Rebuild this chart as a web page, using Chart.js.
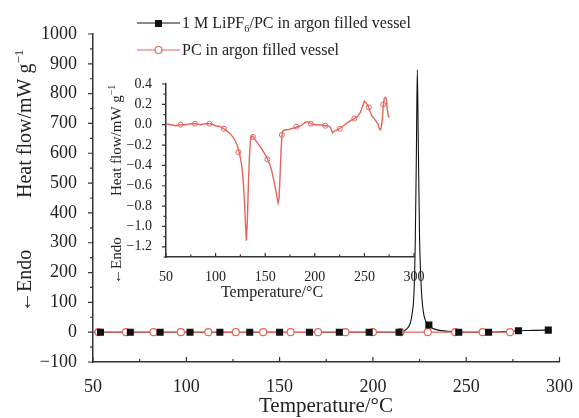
<!DOCTYPE html>
<html lang="en">
<head>
    <meta charset="UTF-8">
    <title>DSC - LiPF6/PC in argon</title>
    <script src="https://cdn.jsdelivr.net/npm/chart.js"></script>
    <style>
        body { margin: 0; background: #fff; }
        .wrap { position: relative; width: 579px; height: 418px; }
        .wrap canvas { position: absolute; left: 0; top: 0; }
        #insetChart { pointer-events: none; }
    </style>
</head>
<body>
    <div class="wrap">
        <canvas id="mainChart" width="579" height="418"></canvas>
        <canvas id="insetChart" width="579" height="418"></canvas>
    </div>

    <script>
        // tick labels
        const mainXTicks = [50, 100, 150, 200, 250, 300];
        const mainYTicks = [-100, 0, 100, 200, 300, 400, 500, 600, 700, 800, 900, 1000];
        const insetXTicks = [50, 100, 150, 200, 250, 300];
        const insetYTicks = [-1.2, -1.0, -0.8, -0.6, -0.4, -0.2, 0.0, 0.2, 0.4];

        // 1 M LiPF6/PC in argon filled vessel (black)
        const liTemp = [50, 100, 150, 200, 212, 214, 216, 218, 220, 221, 222, 222.7, 223.3, 223.8, 224.3, 225, 226, 227, 228, 229, 230, 232, 235, 240, 245, 250, 262, 270, 278, 286, 294];
        const liFlow = [0, 0, 0, 0, 0, 1, 3, 10, 30, 60, 130, 300, 600, 880, 650, 320, 140, 70, 42, 30, 24, 13, 7, 3, 1, 0, 0, 2, 5, 6, 7];
        const liMarkTemp = [54, 70, 86, 102, 118, 134, 150, 166, 182, 198, 214, 230, 246, 262, 278, 294];
        const liMarkFlow = [0, 0, 0, 0, 0, 0, 0, 0, 0, 0, 0, 24, 0, 0, 5, 7];

        // PC in argon filled vessel (red)
        const pcTemp = [50, 55, 60, 65, 70, 75, 80, 85, 90, 95, 100, 105, 110, 115, 118, 120, 122, 124, 126, 127, 128, 129, 130, 131, 132, 133, 134, 135, 136, 137, 138, 140, 143, 146, 149, 152, 155, 157, 159, 161, 162, 163, 164, 165, 166, 167, 168, 170, 173, 176, 180, 183, 186, 190, 193, 196, 200, 205, 210, 213, 215, 216, 217, 218, 220, 223, 226, 230, 233, 236, 240, 243, 246, 248, 250, 252, 254, 256, 258, 260, 262, 264, 265, 266, 267, 268, 269, 270, 271, 272, 273, 274, 275];
        const pcFlow = [0.01, 0.0, -0.01, 0.0, 0.0, 0.01, 0.01, 0.0, 0.01, 0.01, -0.01, -0.02, -0.05, -0.09, -0.13, -0.16, -0.21, -0.28, -0.38, -0.46, -0.58, -0.74, -0.95, -1.14, -0.95, -0.6, -0.34, -0.16, -0.12, -0.11, -0.12, -0.15, -0.19, -0.23, -0.28, -0.33, -0.4, -0.47, -0.56, -0.66, -0.72, -0.77, -0.72, -0.5, -0.25, -0.09, -0.06, -0.05, -0.05, -0.04, -0.03, -0.02, -0.01, 0.02, 0.03, 0.01, 0.0, 0.0, -0.01, -0.01, -0.02, -0.03, -0.06, -0.08, -0.06, -0.05, -0.03, 0.0, 0.02, 0.04, 0.06, 0.08, 0.12, 0.18, 0.23, 0.21, 0.18, 0.12, 0.08, 0.06, 0.03, 0.0, -0.04, -0.05, -0.03, 0.05, 0.18, 0.26, 0.27, 0.26, 0.16, 0.09, 0.07];
        const pcMarkTemp = [53, 67.7, 82.4, 97.1, 111.8, 126.5, 141.2, 155.9, 170.6, 185.3, 200, 214.7, 229.4, 244.1, 258.8, 273.5];
        const pcMarkFlow = [0, 0, 0, 0, 0, 0, 0, 0, 0, 0, 0, 0, 0, 0, 0, 0];
        const pcInsetMarkTemp = [64.6, 79.2, 93.8, 108.4, 123, 137.6, 152.2, 166.8, 181.4, 196, 210.6, 225.2, 239.8, 254.4, 269];
        const pcInsetMarkFlow = [0.0, 0.01, 0.01, -0.04, -0.27, -0.12, -0.34, -0.1, -0.02, 0.01, -0.01, -0.04, 0.06, 0.17, 0.2];

        const BLACK = '#111';
        const RED = '#e4655c';
        const SERIF = "'Liberation Serif', 'Times New Roman', serif";

        const pts = (xs, ys) => xs.map((x, i) => ({ x: x, y: ys[i] }));
        const fmt = v => (v < 0 ? '\u2212' : '') + Math.abs(v);

        // draws text pieces with sub/superscripts, returns end x
        function richText(ctx, parts, x, y, size) {
            parts.forEach(p => {
                const s = p.sub || p.sup ? size * 0.65 : size;
                ctx.font = s + 'px ' + SERIF;
                const dy = p.sub ? size * 0.28 : (p.sup ? -size * 0.4 : 0);
                ctx.fillText(p.t, x, y + dy);
                x += ctx.measureText(p.t).width;
            });
            return x;
        }

        // tick marks: x ticks point inward (up), y ticks outward (left); minor ticks halfway
        function tickMarks(chart, major, minor) {
            const ctx = chart.ctx, a = chart.chartArea;
            const xs = chart.scales.x, ys = chart.scales.y;
            ctx.save();
            ctx.strokeStyle = '#333';
            ctx.lineWidth = 1.2;
            ctx.beginPath();
            xs.ticks.forEach((t, i) => {
                const p = xs.getPixelForValue(t.value);
                ctx.moveTo(p, a.bottom); ctx.lineTo(p, a.bottom - major);
                if (i < xs.ticks.length - 1) {
                    const m = xs.getPixelForValue((t.value + xs.ticks[i + 1].value) / 2);
                    ctx.moveTo(m, a.bottom); ctx.lineTo(m, a.bottom - minor);
                }
            });
            ys.ticks.forEach((t, i) => {
                const p = ys.getPixelForValue(t.value);
                ctx.moveTo(a.left, p); ctx.lineTo(a.left - major, p);
                if (i < ys.ticks.length - 1) {
                    const m = ys.getPixelForValue((t.value + ys.ticks[i + 1].value) / 2);
                    ctx.moveTo(a.left, m); ctx.lineTo(a.left - minor, m);
                }
            });
            // a minor tick below the lowest inset label
            const lo = ys.ticks[0].value, step = ys.ticks[1].value - lo;
            if (ys.min < lo - step / 2 + 1e-9) {
                const m = ys.getPixelForValue(lo - step / 2);
                ctx.moveTo(a.left, m); ctx.lineTo(a.left - minor, m);
            }
            ctx.stroke();
            ctx.restore();
        }

        const mainDecor = {
            id: 'mainDecor',
            afterDraw(chart) {
                const ctx = chart.ctx, a = chart.chartArea;
                tickMarks(chart, 5, 3);
                ctx.save();
                ctx.fillStyle = '#222';
                // x title
                ctx.font = '21px ' + SERIF;
                ctx.textAlign = 'center';
                ctx.textBaseline = 'alphabetic';
                ctx.fillText('Temperature/\u00B0C', 326, 412);
                // y title (rotated)
                ctx.textAlign = 'left';
                ctx.translate(31, 0);
                ctx.rotate(-Math.PI / 2);
                richText(ctx, [{ t: '\u2190Endo' }], -312, 0, 20);
                richText(ctx, [{ t: 'Heat flow/mW g' }, { t: '\u22121', sup: true }], -198, 0, 20);
                ctx.restore();

                // legend
                ctx.save();
                ctx.fillStyle = '#222';
                ctx.strokeStyle = BLACK;
                ctx.lineWidth = 1.2;
                ctx.beginPath(); ctx.moveTo(137, 23); ctx.lineTo(180, 23); ctx.stroke();
                ctx.fillStyle = BLACK;
                ctx.fillRect(155, 20, 7, 7);
                ctx.fillStyle = '#222';
                richText(ctx, [{ t: '1 M LiPF' }, { t: '6', sub: true }, { t: '/PC in argon filled vessel' }], 182, 28, 16);
                ctx.strokeStyle = RED;
                ctx.beginPath(); ctx.moveTo(137, 50); ctx.lineTo(180, 50); ctx.stroke();
                ctx.fillStyle = '#fff';
                ctx.beginPath(); ctx.arc(158.5, 50, 3.5, 0, Math.PI * 2); ctx.fill(); ctx.stroke();
                ctx.fillStyle = '#222';
                richText(ctx, [{ t: 'PC in argon filled vessel' }], 182, 55, 16);
                ctx.restore();
            }
        };

        const insetDecor = {
            id: 'insetDecor',
            afterDraw(chart) {
                const ctx = chart.ctx;
                tickMarks(chart, 4, 2.5);
                ctx.save();
                ctx.fillStyle = '#222';
                ctx.font = '16px ' + SERIF;
                ctx.textAlign = 'center';
                ctx.fillText('Temperature/\u00B0C', 272, 297);
                ctx.textAlign = 'left';
                ctx.translate(121, 0);
                ctx.rotate(-Math.PI / 2);
                richText(ctx, [{ t: '\u2190Endo' }], -284, 0, 15);
                richText(ctx, [{ t: 'Heat flow/mW g' }, { t: '\u22121', sup: true }], -196, 0, 15);
                ctx.restore();
            }
        };

        function axis(min, max, tickVals, fontSize, fixedSize, labelFmt, padding) {
            return {
                type: 'linear',
                min: min,
                max: max,
                afterBuildTicks: s => { s.ticks = tickVals.map(v => ({ value: v })); },
                afterFit: s => { if (s.isHorizontal()) s.height = fixedSize; else s.width = fixedSize; },
                grid: { display: false },
                border: { display: true, color: '#333', width: 1.5 },
                ticks: {
                    font: { family: SERIF, size: fontSize },
                    color: '#222',
                    padding: padding,
                    maxRotation: 0,
                    autoSkip: false,
                    callback: labelFmt
                }
            };
        }

        Chart.defaults.animation = false;

        new Chart(document.getElementById('mainChart'), {
            type: 'line',
            data: {
                datasets: [
                    { data: pts(liMarkTemp, liMarkFlow), showLine: false, pointStyle: 'rect', pointRadius: 5, backgroundColor: BLACK, borderColor: BLACK, borderWidth: 0 },
                    { data: pts(pcMarkTemp, pcMarkFlow), showLine: false, pointStyle: 'circle', pointRadius: 3.5, backgroundColor: '#fff', borderColor: RED, borderWidth: 1.2 },
                    { data: pts(pcTemp, pcFlow), borderColor: RED, borderWidth: 1.3, pointRadius: 0, tension: 0 },
                    { data: pts(liTemp, liFlow), borderColor: BLACK, borderWidth: 1.1, pointRadius: 0, cubicInterpolationMode: 'monotone' }
                ]
            },
            options: {
                responsive: false,
                devicePixelRatio: 1,
                layout: { autoPadding: false, padding: { left: 0, right: 11, top: 34, bottom: 0 } },
                plugins: { legend: { display: false }, tooltip: { enabled: false } },
                scales: {
                    x: axis(50, 300, mainXTicks, 18, 56, v => fmt(v), 6),
                    y: axis(-100, 1000, mainYTicks, 18, 93, v => fmt(v), 8)
                }
            },
            plugins: [mainDecor]
        });

        new Chart(document.getElementById('insetChart'), {
            type: 'line',
            data: {
                datasets: [
                    { data: pts(pcInsetMarkTemp, pcInsetMarkFlow), showLine: false, pointStyle: 'circle', pointRadius: 2.5, backgroundColor: 'rgba(255,255,255,0)', borderColor: RED, borderWidth: 1 },
                    { data: pts(pcTemp, pcFlow), borderColor: RED, borderWidth: 1.4, pointRadius: 0, tension: 0 }
                ]
            },
            options: {
                responsive: false,
                devicePixelRatio: 1,
                layout: { autoPadding: false, padding: { left: 0, right: 165, top: 84, bottom: 0 } },
                plugins: { legend: { display: false }, tooltip: { enabled: false } },
                scales: {
                    x: axis(50, 300, insetXTicks, 14, 161, v => fmt(v), 4),
                    y: axis(-1.3, 0.4, insetYTicks, 14, 166, v => (v < 0 ? '\u2212' : '') + Math.abs(v).toFixed(1), 6)
                }
            },
            plugins: [insetDecor]
        });
    </script>
</body>
</html>
